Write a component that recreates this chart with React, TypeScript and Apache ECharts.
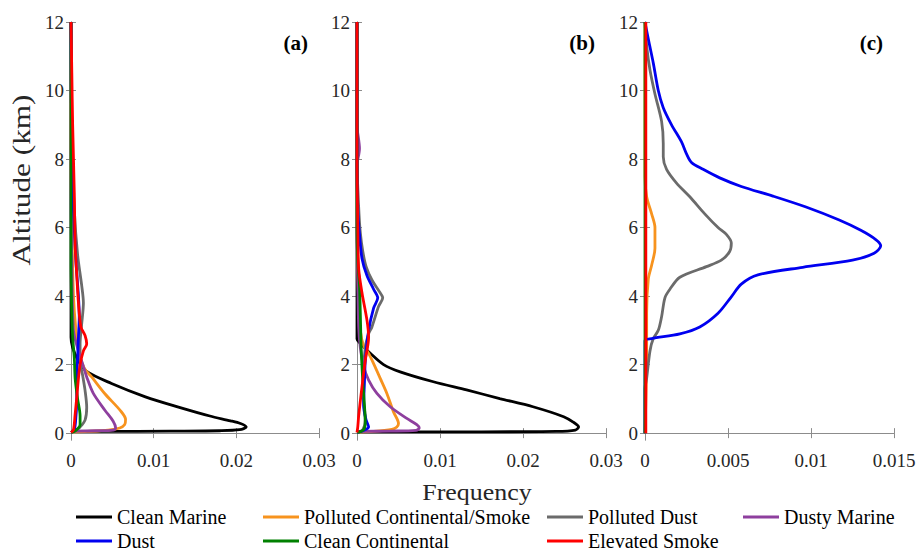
import React, { useEffect, useRef } from "react";
import * as echarts from "echarts";

// ---------------- data ----------------
const seriesNames = [
  "Clean Marine",
  "Polluted Continental/Smoke",
  "Polluted Dust",
  "Dusty Marine",
  "Dust",
  "Clean Continental",
  "Elevated Smoke",
];
const seriesColors = ["#000000", "#F7931E", "#6B6B6B", "#8E3F9E", "#0000F0", "#008000", "#FF0000"];
const panelLabels = ["(a)", "(b)", "(c)"];
const altitudeTicks = [0, 2, 4, 6, 8, 10, 12];
const freqMax = [0.03, 0.03, 0.015];
const freqStep = [0.01, 0.01, 0.005];

// panel (a)  [frequency, altitude km]
const cleanMarineA = [[0,0.05],[0.004,0.05],[0.012,0.06],[0.018,0.07],[0.0204,0.1],[0.0212,0.18],[0.0205,0.28],[0.0193,0.36],[0.0168,0.5],[0.013,0.76],[0.009,1.06],[0.0049,1.45],[0.0019,1.8],[0.0008,2.15],[0.0002,2.5],[0,2.8],[0,12]];
const pollutedContA = [[0,0.03],[0.002,0.05],[0.0045,0.09],[0.0059,0.15],[0.0065,0.25],[0.0066,0.4],[0.006,0.65],[0.0041,1.15],[0.0025,1.64],[0.0016,1.9],[0.001,2.3],[0.0006,3.0],[0.0003,4.0],[0.0001,6.0],[0,8],[0,12]];
const pollutedDustA = [[0,0.02],[0.0005,0.06],[0.0011,0.18],[0.0017,0.38],[0.0019,0.75],[0.0017,1.25],[0.0014,1.7],[0.0011,2.1],[0.0011,2.6],[0.0013,3.2],[0.0015,3.8],[0.0013,4.3],[0.0008,5.2],[0.0004,6.5],[0.0001,8.5],[0,12]];
const dustyMarineA = [[0,0.06],[0.003,0.07],[0.0051,0.09],[0.0054,0.15],[0.0051,0.35],[0.0041,0.67],[0.0027,1.16],[0.0019,1.64],[0.0015,1.95],[0.0009,2.4],[0.0003,3.0],[0.0001,5.0],[0,7],[0,12]];
const dustA = [[0,0.02],[0.0004,0.1],[0.0006,0.5],[0.0007,1.0],[0.0007,1.6],[0.0008,2.2],[0.0009,2.8],[0.001,3.4],[0.0009,4.0],[0.0006,5.0],[0.0003,6.5],[0.0001,8.0],[0,12]];
const cleanContA = [[0,0.02],[0.0006,0.08],[0.0011,0.25],[0.0011,0.5],[0.0008,1.0],[0.0005,1.6],[0.0004,2.2],[0.0002,2.8],[0.0001,3.5],[0,5],[0,12]];
const elevatedSmokeA = [[0,0.02],[0.0003,0.1],[0.0005,0.55],[0.0007,1.05],[0.0009,1.6],[0.0011,2.0],[0.0015,2.4],[0.0019,2.6],[0.0017,2.85],[0.0012,3.1],[0.0009,3.8],[0.0007,4.6],[0.0005,5.5],[0.0004,7.0],[0.0002,9.0],[0.0001,10.5],[0,12]];

// panel (b)
const cleanMarineB = [[0,0.04],[0.005,0.04],[0.015,0.04],[0.024,0.05],[0.0263,0.09],[0.0267,0.18],[0.026,0.33],[0.0249,0.48],[0.0212,0.77],[0.0172,1.01],[0.0132,1.26],[0.0092,1.5],[0.0052,1.79],[0.0032,2.0],[0.0016,2.33],[0.0004,2.62],[0,2.75],[0,12]];
const pollutedContB = [[0,0.03],[0.002,0.05],[0.0042,0.11],[0.0048,0.18],[0.005,0.28],[0.0044,0.62],[0.0036,1.16],[0.0028,1.6],[0.002,2.03],[0.0014,2.33],[0.0008,2.55],[0.0004,3.0],[0.0002,3.8],[0.0001,5.0],[0,7],[0,12]];
const pollutedDustB = [[0,0.02],[0.0007,0.1],[0.001,0.4],[0.0008,1.0],[0.0008,1.8],[0.001,2.5],[0.0014,2.9],[0.0018,3.1],[0.0026,3.7],[0.0031,3.95],[0.0027,4.13],[0.0018,4.47],[0.0011,4.86],[0.0007,5.3],[0.0004,5.85],[0.0002,6.6],[0,8],[0,12]];
const dustyMarineB = [[0,0.05],[0.004,0.06],[0.0071,0.08],[0.0075,0.15],[0.0072,0.25],[0.006,0.43],[0.004,0.77],[0.0024,1.16],[0.0014,1.55],[0.0008,1.95],[0.0004,2.5],[0.0002,3.1],[0.0001,4.5],[0,6],[0,7.8],[0.0003,8.3],[0,9],[0,12]];
const dustB = [[0,0.02],[0.0008,0.08],[0.0014,0.18],[0.0011,0.38],[0.0008,0.8],[0.0009,1.5],[0.001,2.1],[0.0014,3.0],[0.002,3.65],[0.0025,3.95],[0.002,4.2],[0.0012,4.6],[0.0006,5.1],[0.0003,5.8],[0.0001,6.5],[0,8],[0,12]];
const cleanContB = [[0,0.02],[0.0008,0.1],[0.001,0.3],[0.0009,0.8],[0.0007,1.5],[0.0005,2.5],[0.0004,3.5],[0.0003,4.3],[0.0001,5.0],[0,6],[0,12]];
const elevatedSmokeB = [[0,0.02],[0.0001,0.2],[0.0002,0.5],[0.0006,1.35],[0.001,2.13],[0.0014,2.8],[0.0012,3.3],[0.0006,4.1],[0.0002,4.8],[0.0001,6.0],[0,8],[0,12]];

// panel (c)
const cleanMarineC: number[][] = [];
const pollutedContC = [[0,0],[0.0001,2.5],[0.0001,3.5],[0.0002,4.5],[0.0004,4.9],[0.0006,5.4],[0.0006,6.0],[0.0004,6.4],[0.0001,6.9],[0,7.5],[0,12]];
const pollutedDustC = [[0,0],[0,1.3],[0.0001,1.6],[0.0003,2.4],[0.0005,2.76],[0.0008,3.0],[0.001,3.4],[0.0012,3.95],[0.0015,4.2],[0.0021,4.55],[0.0037,4.86],[0.0046,5.05],[0.0051,5.3],[0.0052,5.55],[0.0049,5.8],[0.0044,6.0],[0.0036,6.4],[0.0027,6.9],[0.0019,7.3],[0.0013,7.7],[0.0011,8.07],[0.0011,8.45],[0.001,9.1],[0.0006,9.9],[0.0003,10.6],[0.0001,11.3],[0,12]];
const dustyMarineC: number[][] = [];
const dustC = [[0,0],[0,2.7],[0.0004,2.76],[0.0021,2.9],[0.0033,3.1],[0.0044,3.5],[0.0052,3.98],[0.0058,4.35],[0.0068,4.62],[0.0095,4.84],[0.0125,5.05],[0.0138,5.25],[0.0142,5.47],[0.0139,5.65],[0.013,5.92],[0.0117,6.22],[0.0097,6.6],[0.0077,6.92],[0.0058,7.2],[0.0045,7.45],[0.0035,7.7],[0.0028,7.9],[0.0025,8.15],[0.0022,8.5],[0.0016,9.0],[0.0011,9.5],[0.0008,10.0],[0.0005,10.8],[0.0002,11.5],[0,12]];
const cleanContC = [[0,0],[0,12]];
const elevatedSmokeC = [[0.00005,0],[0.00005,12]];

const panelData = [
  [cleanMarineA, pollutedContA, pollutedDustA, dustyMarineA, dustA, cleanContA, elevatedSmokeA],
  [cleanMarineB, pollutedContB, pollutedDustB, dustyMarineB, dustB, cleanContB, elevatedSmokeB],
  [cleanMarineC, pollutedContC, pollutedDustC, dustyMarineC, dustC, cleanContC, elevatedSmokeC],
];

// ---------------- layout ----------------
const FONT = "Liberation Serif";
const gridLefts = [71, 357, 645];
const gridWidths = [248, 249, 249];
const gridTop = 22;
const gridHeight = 418;
const axisColor = "#8c8c8c";
const labelColor = "#262626";

const legendPlacement = [
  { left: 76, top: 507 },
  { left: 263, top: 507 },
  { left: 547, top: 507 },
  { left: 743, top: 507 },
  { left: 76, top: 531 },
  { left: 263, top: 531 },
  { left: 547, top: 531 },
];

function fmt(v: number) {
  return String(+(+v).toFixed(4));
}

export default function App() {
  const ref = useRef<HTMLDivElement>(null);

  useEffect(() => {
    if (!ref.current) return;
    const chart = echarts.init(ref.current, null, { renderer: "svg" });

    const grid = gridLefts.map((l, i) => ({
      left: l,
      top: gridTop,
      width: gridWidths[i],
      height: gridHeight,
      containLabel: false,
    }));

    const axisLine = { show: true, lineStyle: { color: axisColor, width: 1 } };

    const xAxis: any[] = [];
    const yAxis: any[] = [];
    for (let p = 0; p < 3; p++) {
      xAxis.push({
        type: "value",
        gridIndex: p,
        position: "bottom",
        min: 0,
        max: freqMax[p],
        interval: freqStep[p],
        axisLine,
        splitLine: { show: false },
        axisTick: { show: true, inside: true, length: 5, lineStyle: { color: axisColor } },
        axisLabel: {
          show: true,
          margin: 11,
          fontFamily: FONT,
          fontSize: 19,
          color: labelColor,
          showMinLabel: true,
          showMaxLabel: true,
          formatter: (v: number) => fmt(v),
        },
      });
      yAxis.push({
        type: "value",
        gridIndex: p,
        position: "left",
        min: -0.2,
        max: 12,
        axisLine,
        splitLine: { show: false },
        axisTick: { show: true, inside: true, length: 5, lineStyle: { color: axisColor }, customValues: altitudeTicks },
        axisLabel: {
          show: true,
          margin: 7,
          fontFamily: FONT,
          fontSize: 19,
          color: labelColor,
          customValues: altitudeTicks,
          formatter: (v: number) => fmt(v),
        },
      });
    }
    for (let p = 0; p < 3; p++) {
      xAxis.push({
        type: "value",
        gridIndex: p,
        position: "top",
        min: 0,
        max: freqMax[p],
        interval: freqStep[p],
        axisLine,
        splitLine: { show: false },
        axisTick: { show: true, inside: true, length: 5, lineStyle: { color: axisColor } },
        axisLabel: { show: false },
      });
      yAxis.push({
        type: "value",
        gridIndex: p,
        position: "right",
        min: -0.2,
        max: 12,
        axisLine,
        splitLine: { show: false },
        axisTick: { show: true, inside: true, length: 5, lineStyle: { color: axisColor }, customValues: altitudeTicks },
        axisLabel: { show: false, customValues: altitudeTicks },
      });
    }

    const series: any[] = [];
    for (let p = 0; p < 3; p++) {
      for (let i = 0; i < seriesNames.length; i++) {
        series.push({
          type: "line",
          name: seriesNames[i],
          xAxisIndex: p,
          yAxisIndex: p,
          data: panelData[p][i],
          showSymbol: false,
          symbol: "none",
          smooth: 0.3,
          clip: true,
          lineStyle: { color: seriesColors[i], width: 2.8 },
          itemStyle: { color: seriesColors[i] },
          emphasis: { disabled: true },
        });
      }
    }

    const legend = seriesNames.map((n, i) => ({
      data: [n],
      left: legendPlacement[i].left,
      top: legendPlacement[i].top,
      icon: "rect",
      itemWidth: 36,
      itemHeight: 3,
      padding: 0,
      selectedMode: false,
      textStyle: { fontFamily: FONT, fontSize: 20, lineHeight: 20, color: "#000" },
    }));

    const graphic: any[] = panelLabels.map((t, p) => ({
      type: "text",
      x: gridLefts[p] + gridWidths[p] - 11,
      y: 43,
      style: {
        text: t,
        fontFamily: FONT,
        fontSize: 21,
        fontWeight: "bold",
        fill: "#000",
        align: "right",
        verticalAlign: "middle",
        textAlign: "right",
        textVerticalAlign: "middle",
      },
    }));
    graphic.push({
      type: "text",
      x: 477,
      y: 492,
      scaleX: 1.08,
      style: {
        text: "Frequency",
        fontFamily: FONT,
        fontSize: 24,
        lineHeight: 24,
        fill: "#262626",
        align: "center",
        verticalAlign: "middle",
        textAlign: "center",
        textVerticalAlign: "middle",
      },
    });
    graphic.push({
      type: "text",
      x: 22,
      y: 180,
      rotation: Math.PI / 2,
      scaleX: 1.25,
      style: {
        text: "Altitude (km)",
        fontFamily: FONT,
        fontSize: 25,
        fill: "#262626",
        align: "center",
        verticalAlign: "middle",
        textAlign: "center",
        textVerticalAlign: "middle",
      },
    });

    chart.setOption({
      animation: false,
      backgroundColor: "#ffffff",
      grid,
      xAxis,
      yAxis,
      legend,
      graphic,
      series,
    });

    return () => chart.dispose();
  }, []);

  return (
    <div
      ref={ref}
      style={{ position: "fixed", left: 0, top: 0, width: 922, height: 552, background: "#fff" }}
    />
  );
}
